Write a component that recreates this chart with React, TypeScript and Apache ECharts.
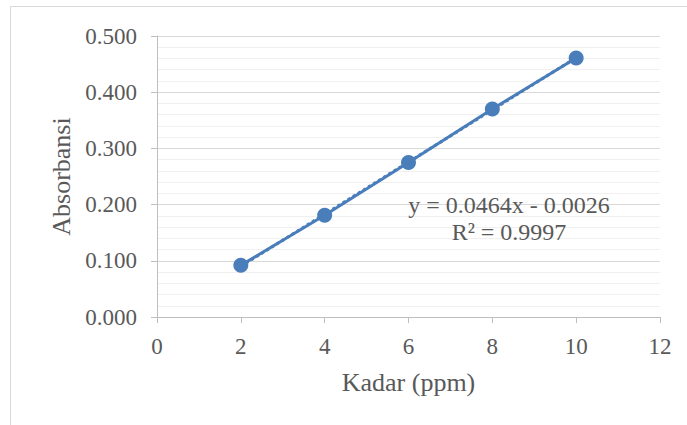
import React, { useEffect, useRef } from "react";
import * as echarts from "echarts";

const kadar = [2, 4, 6, 8, 10];
const absorbansi = [0.092, 0.181, 0.275, 0.37, 0.461];
const trendX = [2, 10];
const trendY = [0.0902, 0.4614];
const equationLines = ["y = 0.0464x - 0.0026", "R² = 0.9997"];
const xTitle = "Kadar (ppm)";
const yTitle = "Absorbansi";

const BLUE = "#4a7ebb";
const TEXT = "#595959";
const FONT = "'Liberation Serif', 'Times New Roman', serif";

export default function App() {
  const ref = useRef<HTMLDivElement>(null);
  useEffect(() => {
    if (!ref.current) return;
    const chart = echarts.init(ref.current, null, { renderer: "svg" });
    chart.setOption({
      animation: false,
      backgroundColor: "#ffffff",
      grid: { left: 157, top: 36, right: 27, bottom: 108, containLabel: false },
      xAxis: {
        type: "value",
        min: 0,
        max: 12,
        interval: 2,
        name: xTitle,
        nameLocation: "middle",
        nameGap: 52,
        nameTextStyle: { color: TEXT, fontFamily: FONT, fontSize: 26 },
        axisLine: { show: true, lineStyle: { color: "#bfbfbf", width: 1 } },
        axisTick: { show: true, length: 6, lineStyle: { color: "#bfbfbf" } },
        axisLabel: { color: TEXT, fontFamily: FONT, fontSize: 23, margin: 18 },
        splitLine: { show: false },
      },
      yAxis: {
        type: "value",
        min: 0,
        max: 0.5,
        interval: 0.1,
        name: yTitle,
        nameLocation: "middle",
        nameGap: 83,
        nameTextStyle: { color: TEXT, fontFamily: FONT, fontSize: 26 },
        axisLine: { show: true, lineStyle: { color: "#bfbfbf", width: 1 } },
        axisTick: { show: true, length: 6, lineStyle: { color: "#bfbfbf" } },
        axisLabel: {
          color: TEXT,
          fontFamily: FONT,
          fontSize: 23,
          margin: 20,
          formatter: (v: number) => v.toFixed(3),
        },
        splitLine: { show: true, lineStyle: { color: "#d9d9d9", width: 1 } },
        minorTick: { show: false, splitNumber: 5 },
        minorSplitLine: { show: true, lineStyle: { color: "#f0f0f0", width: 1 } },
      },
      series: [
        {
          type: "line",
          data: trendX.map((x, i) => [x, trendY[i]]),
          showSymbol: false,
          symbol: "none",
          lineStyle: { color: BLUE, width: 3, type: "dotted" },
          z: 2,
          silent: true,
        },
        {
          type: "line",
          data: kadar.map((x, i) => [x, absorbansi[i]]),
          symbol: "circle",
          symbolSize: 15,
          itemStyle: { color: BLUE },
          lineStyle: { color: BLUE, width: 3 },
          z: 3,
        },
      ],
      graphic: [
        {
          type: "rect",
          shape: { x: 10.5, y: 6.5, width: 700, height: 440 },
          style: { fill: "none", stroke: "#d9d9d9", lineWidth: 1 },
          z: -1,
          silent: true,
        },
        {
          type: "text",
          x: 509,
          y: 205,
          style: {
            text: equationLines[0],
            fill: TEXT,
            font: `24px ${FONT}`,
            align: "center",
            verticalAlign: "middle",
          },
          z: 10,
        },
        {
          type: "text",
          x: 509,
          y: 232,
          style: {
            text: equationLines[1],
            fill: TEXT,
            font: `24px ${FONT}`,
            align: "center",
            verticalAlign: "middle",
          },
          z: 10,
        },
      ],
    });
    return () => chart.dispose();
  }, []);
  return (
    <div
      ref={ref}
      style={{ position: "fixed", left: 0, top: 0, width: 687, height: 425 }}
    />
  );
}
